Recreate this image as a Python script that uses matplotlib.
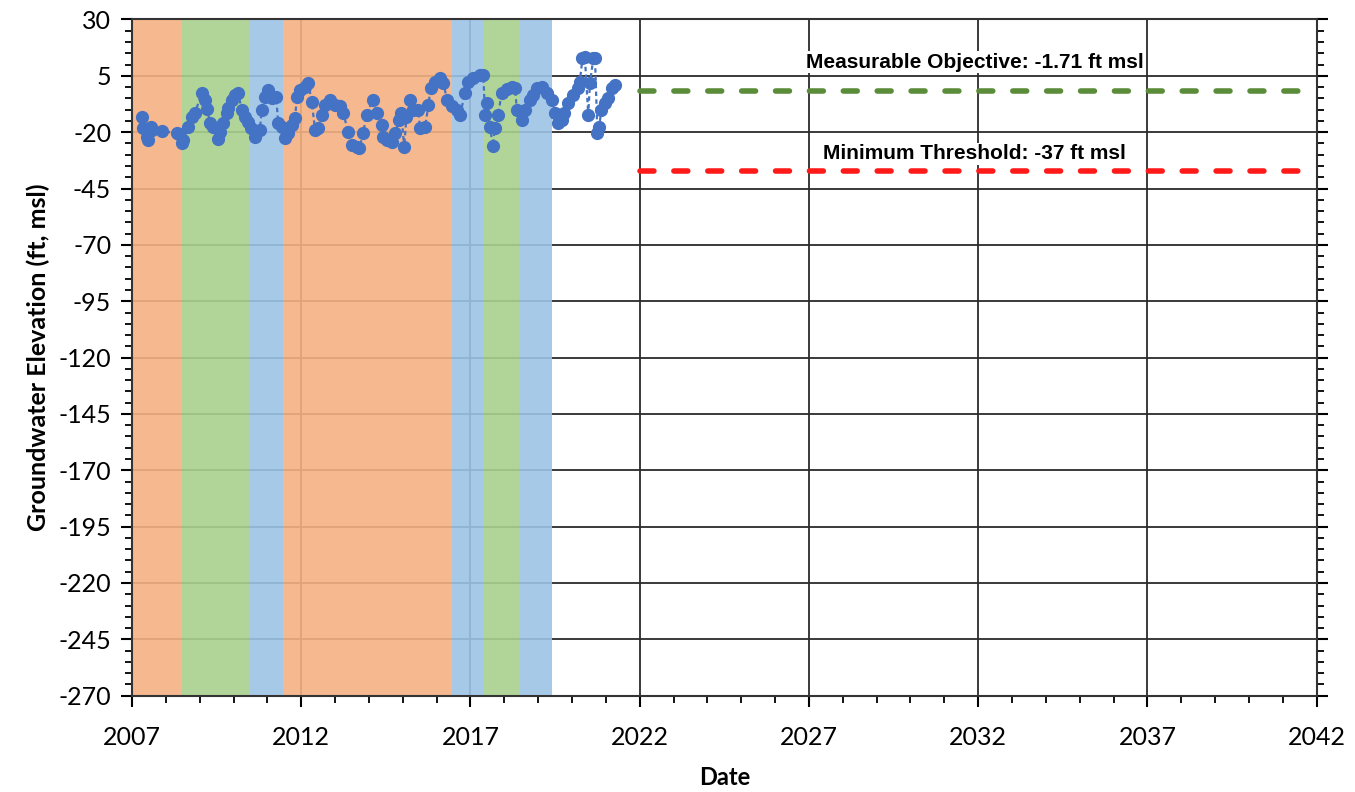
import matplotlib
matplotlib.use("Agg")
import numpy as np
import matplotlib.pyplot as plt

plt.rcParams['axes.unicode_minus'] = False

# groundwater level readings (decimal year, ft msl)
years = [2007.29, 2007.33, 2007.43, 2007.47, 2007.55, 2007.60, 2007.90, 2008.32,
         2008.40, 2008.47, 2008.52, 2008.66, 2008.76, 2008.86, 2009.06, 2009.16,
         2009.23, 2009.30, 2009.40, 2009.55, 2009.60, 2009.70, 2009.80, 2009.85,
         2009.95, 2010.05, 2010.14, 2010.24, 2010.34, 2010.44, 2010.53, 2010.63,
         2010.78, 2010.83, 2010.93, 2011.03, 2011.13, 2011.26, 2011.32, 2011.42,
         2011.52, 2011.62, 2011.72, 2011.82, 2011.87, 2011.97, 2012.11, 2012.21,
         2012.31, 2012.41, 2012.50, 2012.60, 2012.70, 2012.85, 2013.00, 2013.14,
         2013.24, 2013.39, 2013.49, 2013.64, 2013.72, 2013.83, 2013.93, 2014.11,
         2014.23, 2014.38, 2014.43, 2014.52, 2014.67, 2014.77, 2014.90, 2014.96,
         2015.04, 2015.11, 2015.21, 2015.31, 2015.46, 2015.51, 2015.66, 2015.76,
         2015.82, 2015.95, 2016.10, 2016.20, 2016.31, 2016.44, 2016.59, 2016.69,
         2016.84, 2016.94, 2017.08, 2017.28, 2017.38, 2017.43, 2017.48, 2017.58,
         2017.66, 2017.72, 2017.82, 2017.92, 2018.07, 2018.22, 2018.32, 2018.37,
         2018.51, 2018.61, 2018.76, 2018.86, 2018.96, 2019.10, 2019.25, 2019.40,
         2019.50, 2019.60, 2019.69, 2019.76, 2019.89, 2020.04, 2020.19, 2020.23,
         2020.31, 2020.38, 2020.48, 2020.53, 2020.63, 2020.68, 2020.75, 2020.80,
         2020.87, 2020.97, 2021.07, 2021.17, 2021.27]
levels = [-13.4, -18.3, -22.0, -23.5, -17.6, -19.0, -19.5, -20.5,
          -21.0, -25.0, -23.5, -17.6, -13.1, -11.6, -2.5, -5.7,
          -9.9, -16.0, -17.6, -23.2, -20.0, -16.0, -11.6, -9.3,
          -5.7, -3.5, -2.5, -10.2, -13.1, -15.3, -18.3, -22.3,
          -19.0, -10.2, -4.2, -1.3, -5.0, -4.2, -16.0, -17.6,
          -22.7, -20.3, -16.8, -13.8, -4.2, -1.3, 0.2, 1.7,
          -6.5, -19.0, -18.3, -12.3, -7.9, -5.7, -7.9, -8.6,
          -11.6, -19.8, -25.7, -26.4, -27.0, -20.3, -12.4, -5.7,
          -11.6, -16.8, -22.0, -23.5, -24.2, -20.3, -14.6, -11.6,
          -26.7, -13.1, -5.7, -10.2, -10.2, -18.3, -17.6, -7.9,
          -0.5, 2.4, 3.9, 1.7, -5.7, -8.6, -10.2, -12.3,
          -2.7, 2.4, 3.9, 5.4, 5.4, -12.3, -7.2, -17.6,
          -26.1, -18.3, -12.3, -2.7, -1.0, 0.0, -0.5, -10.2,
          -14.6, -10.2, -5.7, -3.5, -0.5, 0.0, -2.7, -5.7,
          -11.6, -16.0, -14.6, -11.6, -7.2, -3.5, -0.5, 2.4,
          12.8, 13.5, -12.3, 1.7, 12.8, 12.8, -20.5, -17.6,
          -10.2, -7.2, -5.0, -0.5, 1.0]

# water year type bands (start, end, colour)
band_starts = [2007.0, 2008.49, 2010.49, 2011.47, 2016.46, 2017.38, 2018.44]
band_ends = [2008.49, 2010.49, 2011.47, 2016.46, 2017.38, 2018.44, 2019.42]
band_colors = ['#F4B183', '#A9D18E', '#9DC3E6', '#F4B183', '#9DC3E6', '#A9D18E', '#9DC3E6']

mo_value = -1.71
mt_value = -37
threshold_years = [2022, 2041.9]

fig = plt.figure(figsize=(13.55, 7.92), dpi=100)
ax = fig.add_axes([0.0974, 0.1216, 0.8743, 0.8538])

for s, e, c in zip(band_starts, band_ends, band_colors):
    ax.axvspan(s, e, color=c, alpha=0.9, lw=0, zorder=1)

ax.plot(years, levels, color='#4472C4', ls=(0, (2, 1.5)), lw=1.6,
        marker='o', ms=8.5, zorder=4)

ax.plot(threshold_years, [mo_value, mo_value], color='#5B8C3A', lw=4,
        ls=(0, (2.5, 3.6)), dash_capstyle='round', zorder=3)
ax.plot(threshold_years, [mt_value, mt_value], color='#FF1A1A', lw=4,
        ls=(0, (2.5, 3.6)), dash_capstyle='round', zorder=3)

ax.text(2031.9, 11.0, 'Measurable Objective: -1.71 ft msl', family='Liberation Sans',
        fontsize=15, fontweight='bold', ha='center', va='center',
        bbox=dict(facecolor='white', edgecolor='none', pad=1), zorder=5)
ax.text(2031.9, -29.5, 'Minimum Threshold: -37 ft msl', family='Liberation Sans',
        fontsize=15, fontweight='bold', ha='center', va='center',
        bbox=dict(facecolor='white', edgecolor='none', pad=1), zorder=5)

ax.set_xlim(2007, 2042)
ax.set_ylim(-270, 30)
ax.set_xticks(np.arange(2007, 2043, 5))
ax.set_xticks(np.arange(2007, 2043, 1), minor=True)
ax.set_yticks(np.arange(-270, 31, 25))
ax.set_yticks(np.arange(-270, 31, 5), minor=True)

ax.set_axisbelow(True)
ax.grid(which='major', color='#2b2b2b', lw=1.3, zorder=0)

ax.tick_params(which='major', direction='out', length=8, width=1.5, labelsize=18,
               right=True, pad=7)
ax.tick_params(axis='x', which='major', pad=14)
ax.tick_params(which='minor', direction='out', length=5, width=1.3, right=True)
for lab in ax.get_xticklabels() + ax.get_yticklabels():
    lab.set_family('Lato')

for sp in ax.spines.values():
    sp.set_color('#333333')
    sp.set_linewidth(1.5)

ax.set_xlabel('Date', family='Lato', fontsize=17, fontweight='bold', labelpad=12)
ax.set_ylabel('Groundwater Elevation (ft, msl)', family='Lato', fontsize=18,
              fontweight='bold', labelpad=6)

fig.savefig('out.png', dpi=100)
